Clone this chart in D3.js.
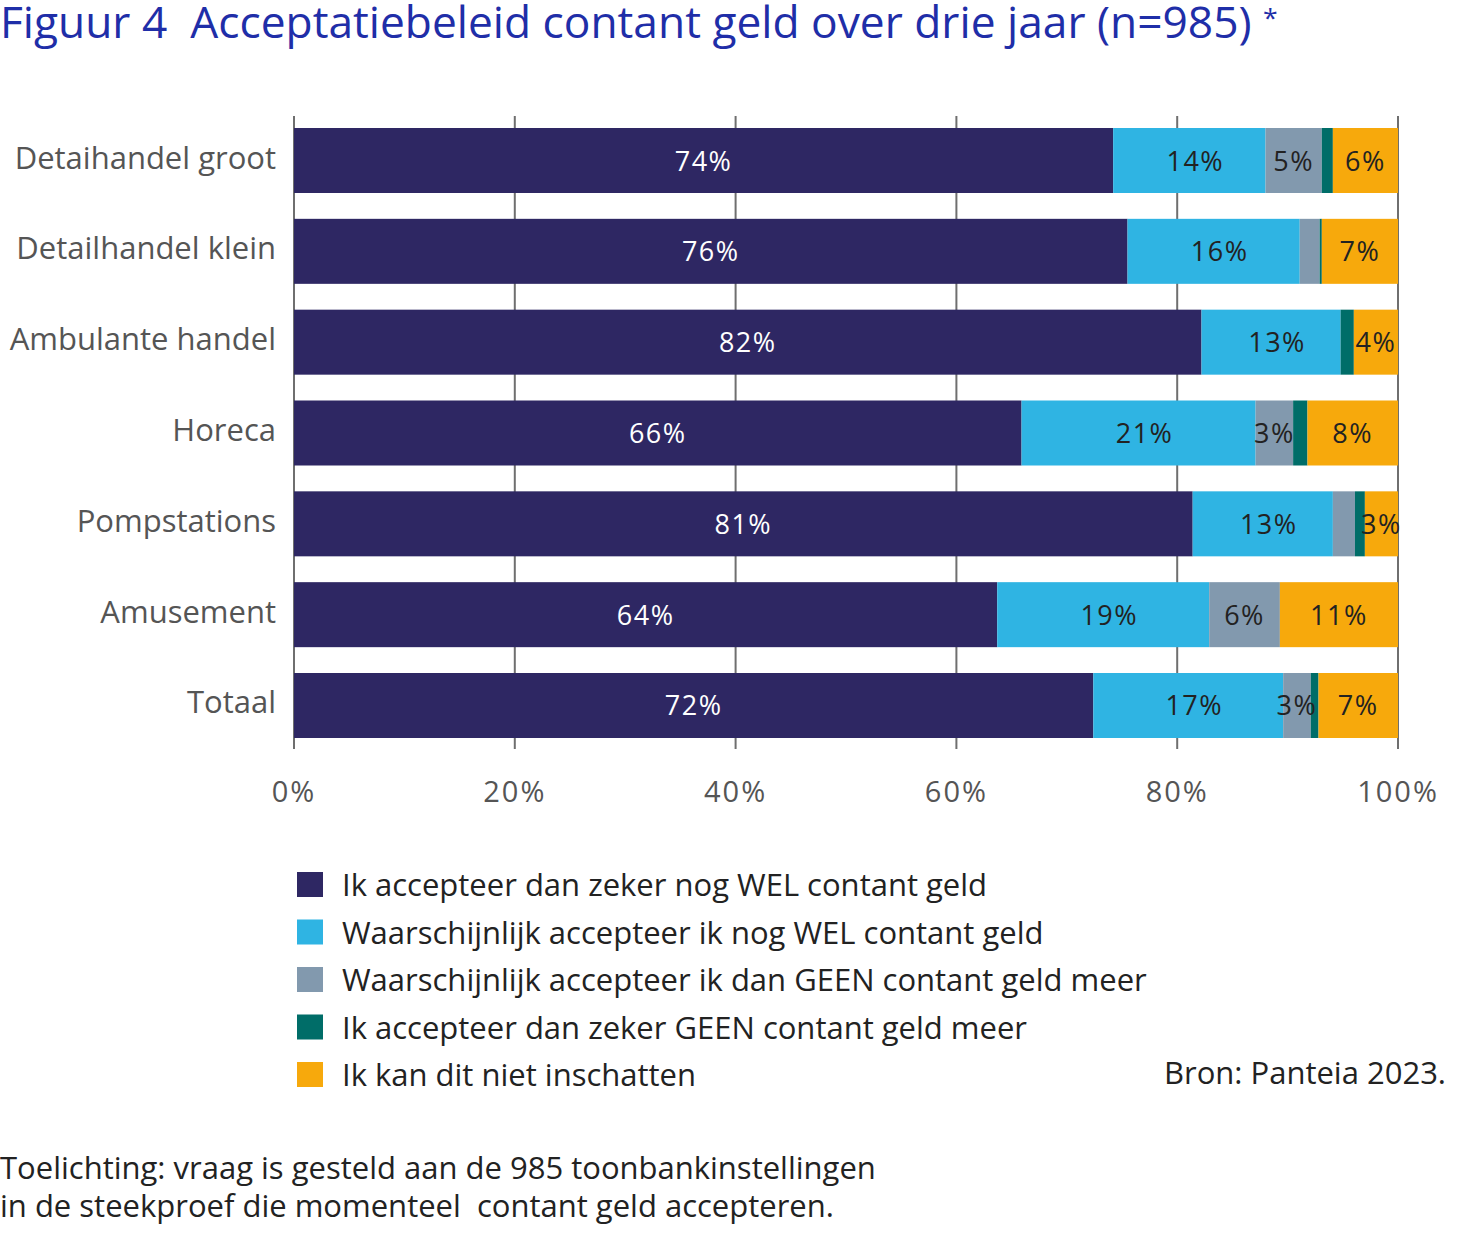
<!DOCTYPE html>
<html>
<head>
<meta charset="utf-8">
<script src="https://cdn.jsdelivr.net/npm/d3@7"></script>
<style>
  body { margin: 0; background: #fff; }
  svg text { font-family: "Open Sans", "Noto Sans", sans-serif; white-space: pre; }
</style>
</head>
<body>
<div id="chart"></div>
<script>
// data
const categories = ['Detaihandel groot', 'Detailhandel klein', 'Ambulante handel', 'Horeca', 'Pompstations', 'Amusement', 'Totaal'];
const seriesNames = [
  'Ik accepteer dan zeker nog WEL contant geld',
  'Waarschijnlijk accepteer ik nog WEL contant geld',
  'Waarschijnlijk accepteer ik dan GEEN contant geld meer',
  'Ik accepteer dan zeker GEEN contant geld meer',
  'Ik kan dit niet inschatten'
];
const zekerWel       = [74.2, 75.5, 82.2, 65.9, 81.4, 63.7, 72.4];
const waarschWel     = [13.8, 15.6, 12.6, 21.2, 12.7, 19.2, 17.2];
const waarschGeen    = [5.1, 1.8, 0, 3.4, 2.0, 6.4, 2.5];
const zekerGeen      = [1.0, 0.2, 1.2, 1.3, 0.9, 0, 0.7];
const nietInschatten = [5.9, 6.9, 4.0, 8.2, 3.0, 10.7, 7.2];
const xTicks = [0, 20, 40, 60, 80, 100];

const colors = ['#2e2763', '#2fb4e3', '#8299ae', '#006d68', '#f7a90c'];
const labelColors = ['#ffffff', '#222222', '#222222', '#222222', '#222222'];

const W = 1465, H = 1250;
const svg = d3.select('#chart').append('svg').attr('width', W).attr('height', H);

// title (condensed look: squeezed horizontally, a bit taller)
const title = svg.append('text')
  .attr('x', 0).attr('y', 0)
  .attr('fill', '#1f2ea8')
  .style('font-size', '40px');
title.append('tspan').text('Figuur 4  Acceptatiebeleid contant geld over drie jaar (n=985) ');
title.append('tspan').text('*').style('font-size', '24px').attr('dy', -10);
const tw = title.node().getComputedTextLength();
title.attr('transform', `translate(0,38) scale(${1278 / tw},1.08)`);

const table = categories.map((c, i) => ({
  cat: c,
  s0: zekerWel[i], s1: waarschWel[i], s2: waarschGeen[i], s3: zekerGeen[i], s4: nietInschatten[i]
}));
const stack = d3.stack().keys(['s0', 's1', 's2', 's3', 's4'])(table);

const x = d3.scaleLinear().domain([0, 100]).range([294, 1398]);
const y = d3.scaleBand().domain(categories).range([128, 738]).paddingInner(0.2844).paddingOuter(0);

// gridlines
svg.append('g').selectAll('line').data(xTicks).join('line')
  .attr('x1', d => x(d)).attr('x2', d => x(d))
  .attr('y1', 116).attr('y2', 749)
  .attr('stroke', '#6f6f6f').attr('stroke-width', 2);

// bars
const layers = svg.append('g').selectAll('g').data(stack).join('g')
  .attr('fill', (d, i) => colors[i]);
layers.selectAll('rect').data(d => d).join('rect')
  .attr('x', d => x(d[0]))
  .attr('y', d => y(d.data.cat))
  .attr('width', d => x(d[1]) - x(d[0]))
  .attr('height', y.bandwidth());

// value labels (teal segment never labelled, tiny segments skipped)
stack.forEach((layer, li) => {
  if (li === 3) return;
  svg.append('g').selectAll('text')
    .data(layer.filter(d => d[1] - d[0] >= 2.2))
    .join('text')
    .attr('x', d => (x(d[0]) + x(d[1])) / 2 + (li === 1 ? 6 : 0))
    .attr('y', d => y(d.data.cat) + y.bandwidth() / 2 + 10)
    .attr('text-anchor', 'middle')
    .attr('fill', labelColors[li])
    .style('font-size', '27px')
    .style('letter-spacing', '1.5px')
    .text(d => Math.round(d[1] - d[0]) + '%');
});

// category labels
svg.append('g').selectAll('text').data(categories).join('text')
  .attr('x', 276)
  .attr('y', d => y(d) + y.bandwidth() / 2 + 8)
  .attr('text-anchor', 'end')
  .attr('fill', '#555')
  .style('font-size', '31px')
  .text(d => d);

// x tick labels
svg.append('g').selectAll('text').data(xTicks).join('text')
  .attr('x', d => x(d))
  .attr('y', 802)
  .attr('text-anchor', 'middle')
  .attr('fill', '#555')
  .style('font-size', '29px')
  .style('letter-spacing', '2px')
  .text(d => d + '%');

// legend
const leg = svg.append('g').selectAll('g').data(seriesNames).join('g')
  .attr('transform', (d, i) => `translate(297,${872 + i * 47.5})`);
leg.append('rect').attr('width', 26).attr('height', 25).attr('fill', (d, i) => colors[i]);
leg.append('text').attr('x', 45).attr('y', 24)
  .attr('fill', '#222').style('font-size', '31px').text(d => d);

svg.append('text')
  .attr('x', 1446).attr('y', 1084)
  .attr('text-anchor', 'end')
  .attr('fill', '#222').style('font-size', '31px')
  .text('Bron: Panteia 2023.');

svg.append('text').attr('x', 0).attr('y', 1179)
  .attr('fill', '#222').style('font-size', '31px')
  .text('Toelichting: vraag is gesteld aan de 985 toonbankinstellingen');
svg.append('text').attr('x', 0).attr('y', 1217)
  .attr('fill', '#222').style('font-size', '31px')
  .text('in de steekproef die momenteel  contant geld accepteren.');
</script>
</body>
</html>
